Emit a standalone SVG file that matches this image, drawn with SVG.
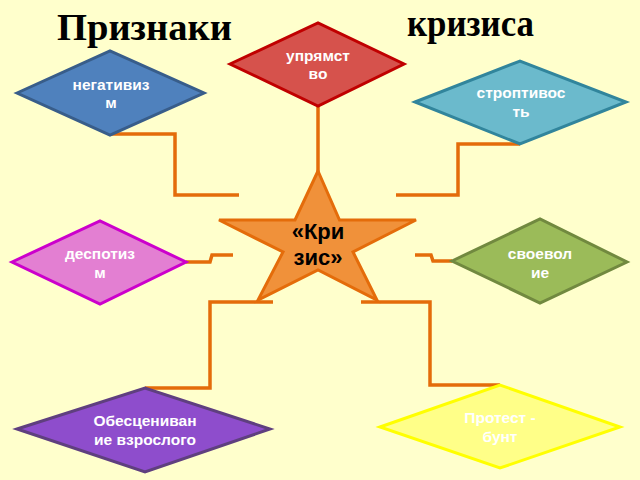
<svg xmlns="http://www.w3.org/2000/svg" width="640" height="480" viewBox="0 0 640 480">
<style>
.title{font-family:"Liberation Serif","Times New Roman",serif;font-weight:bold;font-size:37px;fill:#000}
.lbl{font-family:"Liberation Sans",Arial,sans-serif;font-weight:bold;font-size:15.5px;fill:#fff;text-anchor:middle}
.star{font-family:"Liberation Sans",Arial,sans-serif;font-weight:bold;font-size:22px;fill:#000;text-anchor:middle}
.con{fill:none;stroke:#E46C0A;stroke-width:3.5}
.d{stroke-width:3}
</style>
<rect width="640" height="480" fill="#FFFFCC"/>
<text class="title" x="57" y="40" textLength="175" lengthAdjust="spacingAndGlyphs">Признаки</text>
<text class="title" x="407" y="36" textLength="127" lengthAdjust="spacingAndGlyphs">кризиса</text>
<g id="connectors">
<polyline class="con" points="110,134 175,134 175,195 239,195"/>
<polyline class="con" points="318,106 318,172"/>
<polyline class="con" points="520,144 458,144 458,195 396,195"/>
<polyline class="con" points="186,262 210,262 212,255 233,255"/>
<polyline class="con" points="452,261 433,261 431,255 415,255"/>
<polyline class="con" points="145,388 210,388 210,302 273,302"/>
<polyline class="con" points="500,385 430,385 430,302 361,302"/>
</g>
<g id="negativism">
<polygon class="d" points="17,93 110,51 204,93 110,135" fill="#4F81BD" stroke="#385D8A"/>
<text class="lbl" x="111" y="90">негативиз</text>
<text class="lbl" x="111" y="108">м</text>
</g>
<g id="uprjamstvo">
<polygon class="d" points="230,64 318,23 404,64 318,106" fill="#D6524C" stroke="#C00000"/>
<text class="lbl" x="318" y="61">упрямст</text>
<text class="lbl" x="318" y="79">во</text>
</g>
<g id="stroptivost">
<polygon class="d" points="415,102 520,61 626,102 520,144" fill="#6BBACC" stroke="#31859C"/>
<text class="lbl" x="521" y="98">строптивос</text>
<text class="lbl" x="521" y="117">ть</text>
</g>
<g id="despotizm">
<polygon class="d" points="12,262 100,221 186,262 100,304" fill="#E37FD2" stroke="#CC00CC"/>
<text class="lbl" x="100" y="259">деспотиз</text>
<text class="lbl" x="100" y="278">м</text>
</g>
<g id="svoevolie">
<polygon class="d" points="452,261 540,219 627,262 540,303" fill="#9BBB59" stroke="#71893F"/>
<text class="lbl" x="540" y="259">своевол</text>
<text class="lbl" x="540" y="278">ие</text>
</g>
<g id="obescenivanie">
<polygon class="d" points="17,429 145,388 270,429 145,472" fill="#8E4DCC" stroke="#5F3F7F"/>
<text class="lbl" x="145" y="426">Обесцениван</text>
<text class="lbl" x="145" y="445">ие взрослого</text>
</g>
<g id="protest">
<polygon class="d" points="380,427 500,385 620,427 500,468" fill="#FFFF88" stroke="#FFFF00"/>
<text class="lbl" x="500" y="423">Протест -</text>
<text class="lbl" x="500" y="442">бунт</text>
</g>
<g id="krizis">
<polygon points="318,171 339.5,220 416,220 353,252 377,300 318,270 258,300 283,252 219,220 295,220" fill="#F0913A" stroke="#E46C0A" stroke-width="3" stroke-linejoin="miter"/>
<text class="star" x="318" y="239">«Кри</text>
<text class="star" x="318" y="265">зис»</text>
</g>
</svg>
